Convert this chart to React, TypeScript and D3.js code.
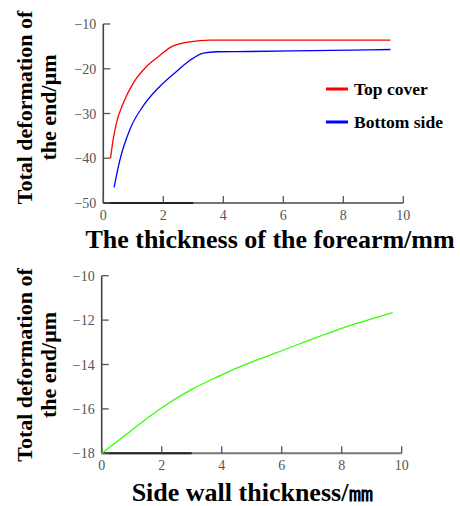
import { useEffect, useRef } from 'react';
import * as d3 from 'd3';

// top chart: forearm thickness
const topCoverX = [0.24, 0.33, 0.44, 0.67, 1.0, 1.44, 1.89, 2.33, 3.22, 3.56, 6, 9.57];
const topCoverY = [-40, -35.8, -32.1, -27.6, -23.2, -19.5, -17.0, -14.9, -13.7, -13.6, -13.6, -13.6];
const bottomSideX = [0.36, 0.56, 0.89, 1.33, 1.89, 2.44, 2.89, 3.33, 3.78, 4.89, 7, 9.57];
const bottomSideY = [-46.5, -40.2, -33.5, -28.3, -23.9, -20.6, -18.1, -16.5, -16.2, -16.15, -15.95, -15.7];

// bottom chart: side wall thickness
const sideWallX = [0, 1, 2, 3, 4, 4.5, 6, 8, 9.7];
const sideWallY = [-18, -16.96, -15.95, -15.12, -14.47, -14.16, -13.38, -12.37, -11.66];

const xTicks = [0, 2, 4, 6, 8, 10];
const topYTicks = [-10, -20, -30, -40, -50];
const bottomYTicks = [-10, -12, -14, -16, -18];

const legendNames = ['Top cover', 'Bottom side'];
const legendColors = ['#ff0000', '#0000ff'];

const serif = '"Liberation Serif", "DejaVu Serif", "Times New Roman", serif';

export default function App() {
  const svgRef = useRef<SVGSVGElement>(null);

  useEffect(() => {
    const svg = d3.select(svgRef.current);
    svg.selectAll('*').remove();

    const drawPanel = (
      left: number,
      top: number,
      bottom: number,
      yDomain: [number, number],
      yTicks: number[],
      series: { x: number[]; y: number[]; color: string }[],
      yTitleCenter: number,
      xTitle: string,
      xTitleX: number,
      xTitleY: number
    ) => {
      const x = d3.scaleLinear().domain([0, 10]).range([left, left + 300]);
      const y = d3.scaleLinear().domain(yDomain).range([bottom, top]);
      const g = svg.append('g');

      // y axis line
      g.append('line')
        .attr('x1', left).attr('x2', left)
        .attr('y1', y(yDomain[1])).attr('y2', y(yDomain[0]))
        .attr('stroke', '#444').attr('stroke-width', 1.6);
      // x axis: grey, with a darker first segment like the original
      g.append('line')
        .attr('x1', left).attr('x2', x(10))
        .attr('y1', bottom).attr('y2', bottom)
        .attr('stroke', '#777').attr('stroke-width', 2);
      g.append('line')
        .attr('x1', left).attr('x2', x(3))
        .attr('y1', bottom).attr('y2', bottom)
        .attr('stroke', '#222').attr('stroke-width', 2);

      g.selectAll('.xt').data(xTicks).enter().append('line')
        .attr('x1', (d) => x(d)).attr('x2', (d) => x(d))
        .attr('y1', bottom).attr('y2', bottom - 7)
        .attr('stroke', '#555').attr('stroke-width', 1.3);
      g.selectAll('.xl').data(xTicks).enter().append('text')
        .attr('x', (d) => x(d)).attr('y', bottom + 17)
        .attr('text-anchor', 'middle')
        .attr('font-family', serif).attr('font-size', 14).attr('fill', '#555')
        .text((d) => d);

      g.selectAll('.yt').data(yTicks).enter().append('line')
        .attr('x1', left).attr('x2', left + 7)
        .attr('y1', (d) => y(d)).attr('y2', (d) => y(d))
        .attr('stroke', '#555').attr('stroke-width', 1.3);
      g.selectAll('.yl').data(yTicks).enter().append('text')
        .attr('x', left - 7).attr('y', (d) => y(d) + 5)
        .attr('text-anchor', 'end')
        .attr('font-family', serif).attr('font-size', 14).attr('fill', '#555')
        .text((d) => '\u2212' + Math.abs(d));

      series.forEach((s) => {
        const pts = s.x.map((v, i) => [x(v), y(s.y[i])] as [number, number]);
        g.append('path')
          .attr('d', d3.line().curve(d3.curveMonotoneX)(pts))
          .attr('fill', 'none').attr('stroke', s.color).attr('stroke-width', 1.3);
      });

      // y title, two lines rotated
      const yt = g.append('text')
        .attr('transform', `translate(32,${yTitleCenter}) rotate(-90)`)
        .attr('text-anchor', 'middle')
        .attr('font-family', serif).attr('font-size', 22).attr('font-weight', 'bold')
        .attr('fill', '#000');
      yt.append('tspan').attr('x', 0).attr('y', 0).text('Total deformation of');
      yt.append('tspan').attr('x', 0).attr('y', 24).text('the end/\u03bcm');

      g.append('text')
        .attr('x', xTitleX).attr('y', xTitleY)
        .attr('text-anchor', 'middle')
        .attr('font-family', serif).attr('font-size', 26).attr('font-weight', 'bold')
        .attr('fill', '#000')
        .text(xTitle);
    };

    drawPanel(
      103.3, 24, 203, [-50, -10], topYTicks,
      [
        { x: topCoverX, y: topCoverY, color: legendColors[0] },
        { x: bottomSideX, y: bottomSideY, color: legendColors[1] },
      ],
      107.5,
      'The thickness of the forearm/mm', 270, 248
    );

    drawPanel(
      101.7, 275.7, 453.3, [-18, -10], bottomYTicks,
      [{ x: sideWallX, y: sideWallY, color: '#33ff00' }],
      365,
      'Side wall thickness/\u339c', 253, 501
    );

    // legend
    const lg = svg.append('g');
    legendNames.forEach((name, i) => {
      const ly = 89 + i * 33;
      lg.append('line')
        .attr('x1', 326).attr('x2', 348).attr('y1', ly).attr('y2', ly)
        .attr('stroke', legendColors[i]).attr('stroke-width', 3);
      lg.append('text')
        .attr('x', 354).attr('y', ly + 5.5)
        .attr('font-family', serif).attr('font-size', 17.5).attr('font-weight', 'bold')
        .attr('fill', '#000')
        .text(name);
    });
  }, []);

  return (
    <svg
      ref={svgRef}
      width={460}
      height={506}
      style={{ position: 'absolute', left: 0, top: 0, background: '#fff' }}
    />
  );
}
